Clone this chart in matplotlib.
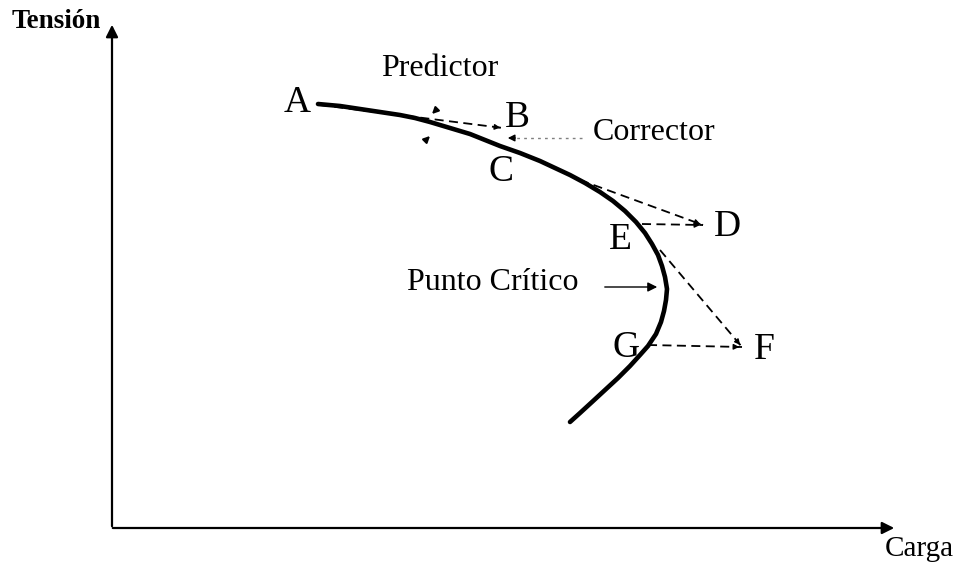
import matplotlib.pyplot as plt
import numpy as np

# curva P-V (unidades del dibujo)
curva_x = [318, 340, 360, 380, 400, 415, 430, 450, 470, 485, 500, 520, 540, 555,
           570, 585, 600, 613, 625, 636, 645, 652, 658, 662, 665, 667, 666, 664,
           661, 656, 648, 640, 630, 618, 605, 592, 580, 570]
curva_y = [104, 106, 109, 112, 115, 118, 122, 128, 134, 140, 146, 153, 161, 168,
           175, 183, 192, 201, 211, 222, 233, 244, 255, 266, 277, 289, 300, 311,
           322, 334, 346, 355, 366, 378, 390, 402, 413, 422]

# tramos predictor / corrector (inicio, fin)
pred_AB = [(320, 105), (503, 128)]
pred_CD = [(580, 180), (703, 225)]
corr_ED = [(642, 224), (703, 225)]
pred_EF = [(660, 250), (742, 347)]
corr_GF = [(648, 345), (742, 347)]

letras = ['A', 'B', 'C', 'D', 'E', 'F', 'G']
letras_x = [297, 517, 501, 727, 620, 764, 626]
letras_y = [103, 118, 172, 227, 240, 350, 348]

plt.rcParams['font.family'] = ['Liberation Serif', 'DejaVu Serif']

fig = plt.figure(figsize=(9.63, 5.65), dpi=100)
ax = fig.add_axes([0, 0, 1, 1])
ax.set_xlim(0, 963)
ax.set_ylim(565, 0)
ax.axis('off')

# ejes
ax.annotate('', xy=(112, 22), xytext=(112, 529),
            arrowprops=dict(arrowstyle='-|>', color='black', lw=1.6, mutation_scale=18))
ax.annotate('', xy=(897, 528), xytext=(110, 528),
            arrowprops=dict(arrowstyle='-|>', color='black', lw=1.6, mutation_scale=18))

ax.plot(curva_x, curva_y, color='black', lw=3.3, solid_capstyle='round', solid_joinstyle='round')

for seg in [pred_AB, pred_CD, corr_ED, pred_EF, corr_GF]:
    (x0, y0), (x1, y1) = seg
    ax.plot([x0, x1], [y0, y1], color='black', lw=1.3, ls=(0, (5, 3)))
    dx, dy = x1 - x0, y1 - y0
    n = np.hypot(dx, dy)
    ax.annotate('', xy=(x1, y1), xytext=(x1 - 6 * dx / n, y1 - 6 * dy / n),
                arrowprops=dict(arrowstyle='-|>', color='black', lw=1, mutation_scale=8))

# corrector (punteado)
ax.plot([582, 512], [138, 138], color='gray', lw=1, ls=(0, (2, 3)))
ax.annotate('', xy=(505, 138), xytext=(518, 138),
            arrowprops=dict(arrowstyle='-|>', color='black', lw=1, mutation_scale=10))

# marcas del predictor
ax.annotate('', xy=(430, 116), xytext=(438, 108),
            arrowprops=dict(arrowstyle='-|>', color='black', lw=1.5, mutation_scale=9))
ax.annotate('', xy=(432, 134), xytext=(424, 142),
            arrowprops=dict(arrowstyle='-|>', color='black', lw=1.5, mutation_scale=9))

# punto critico
ax.annotate('', xy=(660, 287), xytext=(602, 287),
            arrowprops=dict(arrowstyle='-|>', color='black', lw=1, mutation_scale=14))

for l, x, y in zip(letras, letras_x, letras_y):
    ax.text(x, y, l, fontsize=27, ha='center', va='center')

ax.text(56, 22, 'Tensión', fontsize=19.5, fontweight='bold', ha='center', va='center')
ax.text(919, 549, 'Carga', fontsize=21, ha='center', va='center')
ax.text(440, 68, 'Predictor', fontsize=23, ha='center', va='center')
ax.text(654, 133, 'Corrector', fontsize=23, ha='center', va='center')
ax.text(493, 283, 'Punto Crítico', fontsize=23, ha='center', va='center')

fig.savefig('out.png', dpi=100, facecolor='white')
